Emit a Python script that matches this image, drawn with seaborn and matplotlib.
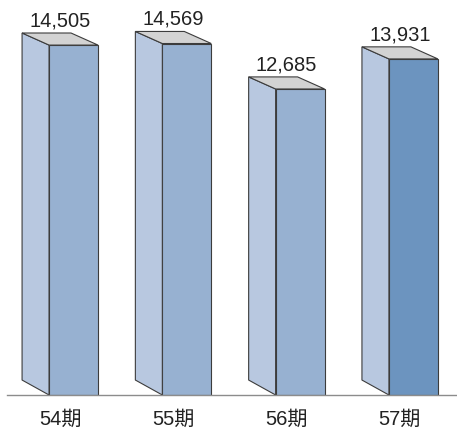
import numpy as np
import pandas as pd
import matplotlib
matplotlib.use("Agg")
import matplotlib.pyplot as plt
from matplotlib.patches import Polygon
import seaborn as sns

# ── Data ──────────────────────────────────────────────────────────────────────
periods = ["54期", "55期", "56期", "57期"]
values = [14505, 14569, 12685, 13931]

# ── Palette ───────────────────────────────────────────────────────────────────
FRONT = ["#97B1D1", "#97B1D1", "#97B1D1", "#6C94BF"]
SIDE = "#B8C8E0"
TOP = "#D3D3D3"
EDGE = "#3C3C3C"
AXIS = "#8C8C8C"

sns.set_style("white")
plt.rcParams["font.family"] = ["Liberation Sans", "Noto Sans CJK JP", "DejaVu Sans"]

df = pd.DataFrame({"period": periods, "value": values})

fig = plt.figure(figsize=(4.57, 4.29), dpi=100)
ax = fig.add_axes([7 / 457, 34 / 429, 450 / 457, 395 / 429])

BAR_W = 0.432
sns.barplot(data=df, x="period", y="value", hue="period", palette=FRONT,
            width=BAR_W, edgecolor=EDGE, linewidth=0.8, legend=False,
            saturation=1, ax=ax)

ax.set_xlim(-0.587, 3.385)
ax.set_ylim(0, 16373)

# depth offsets (data units)
DX = 0.238
DY_TOP = 500
DY_BOT = 620

for bar in ax.patches[:len(values)]:
    xl = bar.get_x()
    xr = xl + bar.get_width()
    h = bar.get_height()
    side = Polygon([(xl, 0), (xl - DX, DY_BOT), (xl - DX, h + DY_TOP), (xl, h)],
                   closed=True, facecolor=SIDE, edgecolor=EDGE, linewidth=0.8,
                   clip_on=False, zorder=1)
    top = Polygon([(xl, h), (xl - DX, h + DY_TOP), (xr - DX, h + DY_TOP), (xr, h)],
                  closed=True, facecolor=TOP, edgecolor=EDGE, linewidth=0.8,
                  clip_on=False, zorder=1)
    ax.add_patch(side)
    ax.add_patch(top)
    ax.text((xl + xr) / 2 - DX / 2, h + DY_TOP + 280, f"{int(h):,}",
            ha="center", va="baseline", fontsize=14.5, color="#222222")

centers = np.arange(len(periods)) - DX / 2
ax.set_xticks(centers, periods)
ax.tick_params(axis="x", length=0, pad=11, labelsize=14.5, colors="#222222")
ax.set_yticks([])
ax.set_xlabel("")
ax.set_ylabel("")
for s in ["top", "left", "right"]:
    ax.spines[s].set_visible(False)
ax.spines["bottom"].set_color(AXIS)
ax.spines["bottom"].set_linewidth(1.0)

fig.savefig("out.png", dpi=100, facecolor="white")
